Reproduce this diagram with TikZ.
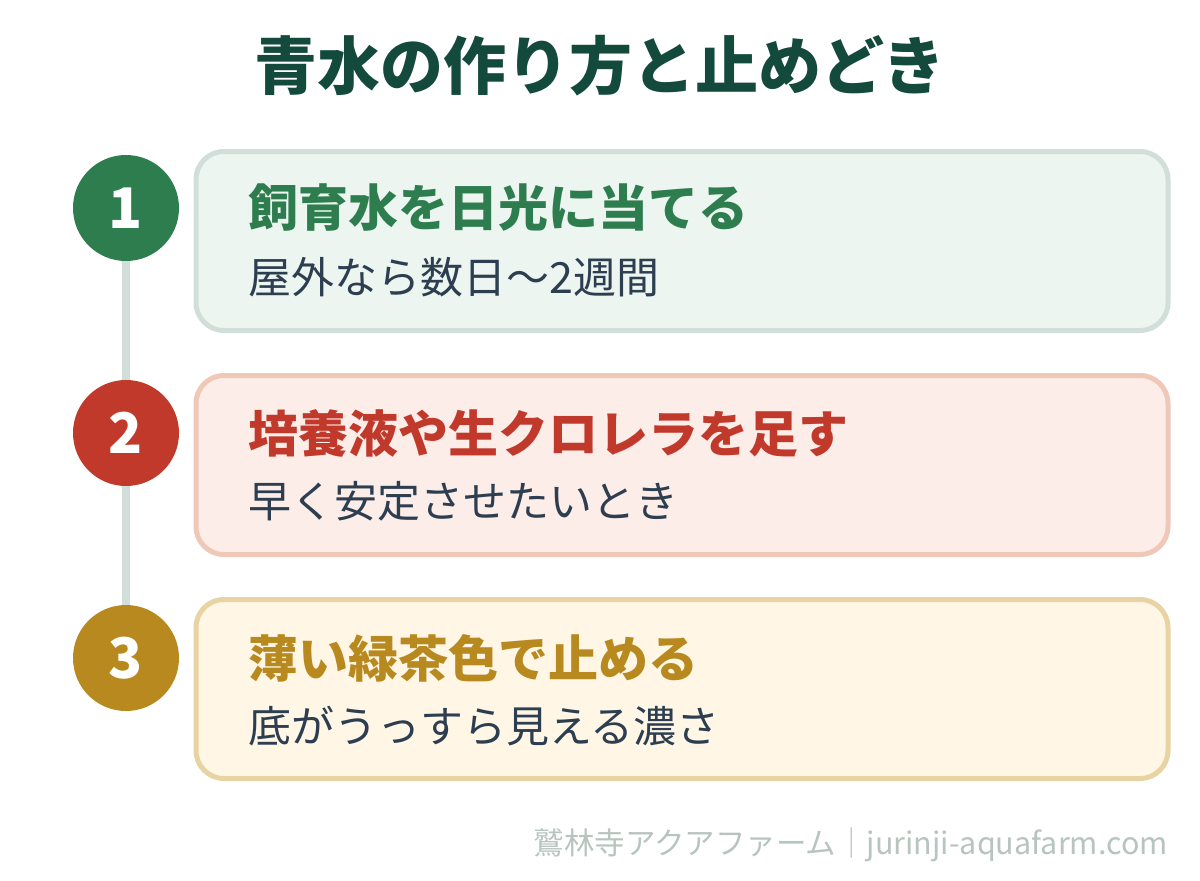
\documentclass[tikz,border=0pt]{standalone}
\usepackage{fontspec}
\setmainfont{Noto Sans CJK JP}
\usepackage{tikz}
\usetikzlibrary{positioning,calc}
\definecolor{mytitle}{HTML}{134A3C}
\definecolor{mygreen}{HTML}{2E7D4F}
\definecolor{myred}{HTML}{C0392B}
\definecolor{mygold}{HTML}{B8891F}
\definecolor{mytext}{HTML}{2C3E50}
\definecolor{mygray}{HTML}{B8C4BE}
\definecolor{mylink}{HTML}{D2DED9}
\definecolor{greenfill}{HTML}{EDF5F0}
\colorlet{greendraw}{mylink}
\definecolor{redfill}{HTML}{FDEDE8}
\definecolor{reddraw}{HTML}{F0C8B8}
\definecolor{goldfill}{HTML}{FFF6E5}
\definecolor{golddraw}{HTML}{E8D4A2}
\tikzset{
	stepbox/.style={
		rectangle, line width=5pt, rounded corners=28pt,
		minimum width=972pt, minimum height=179pt,
	},
	num/.style={
		circle, minimum size=106pt, inner sep=0pt, text=white,
		font=\bfseries\fontsize{56}{56}\selectfont,
	},
	head/.style={anchor=west, inner sep=0pt, font=\bfseries\fontsize{50}{50}\selectfont},
	sub/.style={anchor=west, inner sep=0pt, text=mytext, font=\fontsize{43}{43}\selectfont},
	link/.style={draw=mylink, line width=8pt},
}
\begin{document}
\begin{tikzpicture}[x=1pt, y=-1pt]
	\useasboundingbox[fill=white] (0,0) rectangle (1200,881);
	% Title
	\node[text=mytitle, font=\bfseries\fontsize{63}{63}\selectfont] (title) at (600,66) {青水の作り方と止めどき};
	% Boxes
	\node[stepbox, fill=greenfill, draw=greendraw] (box1) at (682,241) {};
	\node[stepbox, fill=redfill, draw=reddraw] (box2) at (682,465) {};
	\node[stepbox, fill=goldfill, draw=golddraw] (box3) at (682,689) {};
	% Number circles
	\node[num, fill=mygreen] (c1) at (126,208) {1};
	\node[num, fill=myred] (c2) at (126,433) {2};
	\node[num, fill=mygold] (c3) at (126,658) {3};
	% Timeline
	\draw[link] (c1) -- (c2);
	\draw[link] (c2) -- (c3);
	% Texts
	\node[head, text=mygreen] (h1) at (248,208) {飼育水を日光に当てる};
	\node[sub] (s1) at (248,277) {屋外なら数日〜2週間};
	\node[head, text=myred] (h2) at (248,433) {培養液や生クロレラを足す};
	\node[sub] (s2) at (248,501) {早く安定させたいとき};
	\node[head, text=mygold] (h3) at (248,658) {薄い緑茶色で止める};
	\node[sub] (s3) at (248,726) {底がうっすら見える濃さ};
	% Footer
	\node[anchor=east, inner sep=0pt, text=mygray, font=\fontsize{30.5}{30.5}\selectfont] (foot) at (1168,845) {鷲林寺アクアファーム｜jurinji-aquafarm.com};
\end{tikzpicture}
\end{document}
